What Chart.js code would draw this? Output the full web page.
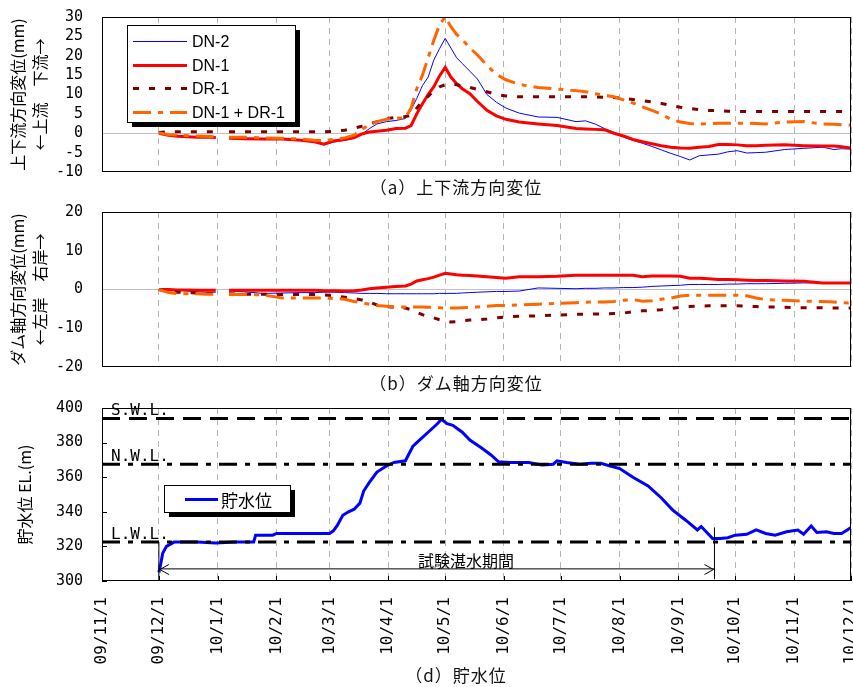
<!DOCTYPE html>
<html lang="ja">
<head>
<meta charset="utf-8">
<title>試験湛水 変位と貯水位</title>
<script src="https://cdn.jsdelivr.net/npm/chart.js@4.4.1/dist/chart.umd.min.js"></script>
<style>
  body { margin: 0; background: #fff; }
  #wrap { position: relative; width: 853px; height: 687px; overflow: hidden; }
  canvas { position: absolute; left: 0; }
  .cap { position: absolute; left: 336px; width: 240px; text-align: center; font: 17px "Noto Sans CJK JP", sans-serif; letter-spacing: 1px; line-height: 20px; color: #111; }
</style>
</head>
<body>
<div id="wrap">
  <canvas id="upDown" width="853" height="184" style="top:0"></canvas>
  <div class="cap" style="top:177px">（a）上下流方向変位</div>
  <canvas id="damAxis" width="853" height="184" style="top:195px"></canvas>
  <div class="cap" style="top:373px">（b）ダム軸方向変位</div>
  <canvas id="level" width="853" height="297" style="top:390px"></canvas>
  <div class="cap" style="top:665px">（d）貯水位</div>
</div>
<script>
// x values are days counted from 2009/11/1
const monthDays = [0, 30, 61, 92, 120, 151, 181, 212, 242, 273, 304, 334, 365, 395];
const monthLabels = ['09/11/1', '09/12/1', '10/1/1', '10/2/1', '10/3/1', '10/4/1', '10/5/1',
  '10/6/1', '10/7/1', '10/8/1', '10/9/1', '10/10/1', '10/11/1', '10/12/1'];

// common sampling days for the displacement panels (null = no data)
const days = [30, 35, 40, 45, 50, 55, 60, 63, 67, 75,
  85, 95, 105, 112, 117, 122, 128, 133, 137, 141,
  145, 150, 155, 160, 163, 166, 169, 172, 175, 178,
  181, 184, 187, 190, 194, 198, 203, 208, 213, 220,
  230, 240, 250, 255, 260, 265, 270, 275, 280, 285,
  290, 295, 300, 305, 310, 315, 320, 325, 330, 335,
  340, 345, 350, 360, 370, 380, 386, 390, 395];

// (a) upstream / downstream displacement (mm)
const dn2Up = [0, -0.3, -0.6, -0.8, -0.9, -1.0, -1.2, null, -1.2, -1.5,
  -1.5, -1.6, -1.9, -2.3, -3.0, -2.3, -1.8, -1.3, -0.3, 1.2,
  2.4, 3.0, 3.3, 3.8, 6.0, 9.0, 12.3, 14.5, 18.9, 21.8,
  24.5, 22.0, 19.5, 18.0, 16.0, 14.0, 10.0, 8.0, 6.5, 5.2,
  4.2, 4.1, 3.0, 3.2, 2.4, 1.2, 0.2, -1.0, -1.8, -2.6,
  -3.4, -4.3, -5.2, -6.0, -6.9, -5.8, -5.6, -5.4, -4.8, -4.5,
  -5.1, -5.0, -4.9, -4.2, -3.9, -3.6, -4.2, -4.0, -4.1];
const dn1Up = [0, -0.5, -0.8, -0.9, -1.0, -1.0, -1.1, null, -1.3, -1.4,
  -1.5, -1.5, -1.8, -2.2, -2.8, -2.0, -1.6, -1.1, -0.2, 0.3,
  0.5, 0.8, 1.2, 1.3, 2.0, 5.0, 7.6, 10.0, 12.0, 14.8,
  17.0, 14.5, 12.8, 11.5, 10.2, 8.2, 5.9, 4.5, 3.6, 2.9,
  2.4, 2.0, 1.2, 1.1, 1.0, 0.9, 0.0, -0.7, -1.6, -2.2,
  -2.7, -3.2, -3.6, -3.8, -3.9, -3.6, -3.4, -2.9, -2.9, -3.0,
  -3.2, -3.2, -3.1, -3.0, -3.2, -3.3, -3.3, -3.5, -3.8];
const dr1Up = [0.2, 0.4, 0.4, 0.4, 0.4, 0.4, 0.4, null, 0.4, 0.4,
  0.4, 0.4, 0.4, 0.4, 0.4, 0.5, 0.8, 1.3, 1.8, 2.4,
  3.0, 3.8, 4.1, 4.3, 4.6, 6.5, 8.3, 9.5, 11.0, 12.0,
  12.5, 12.8, 12.5, 12.2, 11.8, 11.3, 10.7, 10.0, 9.6, 9.4,
  9.4, 9.4, 9.4, 9.4, 9.4, 9.3, 9.2, 9.0, 8.7, 8.4,
  8.1, 7.7, 7.2, 6.7, 6.4, 6.1, 5.9, 5.8, 5.7, 5.6,
  5.6, 5.6, 5.6, 5.6, 5.6, 5.6, 5.6, 5.6, 5.6];
const sumUp = [0.1, -0.3, -0.5, -0.6, -0.7, -0.8, -0.9, null, -1.0, -1.0,
  -1.2, -1.3, -1.5, -1.8, -1.9, -1.6, -1.2, -0.5, 1.0, 2.2,
  3.0, 3.6, 3.9, 4.0, 6.5, 11.5, 15.0, 19.5, 24.0, 28.0,
  30.0, 27.5, 25.5, 24.2, 22.0, 20.2, 17.5, 15.2, 13.8, 12.6,
  11.8, 11.4, 11.0, 10.7, 10.2, 9.8, 9.4, 8.6, 7.8, 6.8,
  5.9, 4.9, 3.6, 2.9, 2.5, 2.4, 2.5, 2.6, 2.6, 2.6,
  2.6, 2.5, 2.4, 2.9, 3.0, 2.4, 2.3, 2.2, 2.1];

// (b) dam-axis displacement (mm)
const dn2Ax = [0, -0.1, -0.2, -0.4, -0.6, -0.7, -0.7, null, -0.4, -0.6,
  -1.0, -0.9, -0.8, -0.8, -0.7, -0.7, -0.8, -0.9, -1.0, -1.0,
  -1.0, -1.1, -1.1, -1.1, -1.1, -1.1, -1.1, -1.1, -1.1, -1.0,
  -1.0, -1.0, -1.0, -0.9, -0.8, -0.7, -0.6, -0.5, -0.5, -0.4,
  0.4, 0.3, 0.2, 0.3, 0.3, 0.4, 0.4, 0.5, 0.5, 0.6,
  0.8, 0.9, 1.0, 1.1, 1.3, 1.3, 1.3, 1.3, 1.4, 1.4,
  1.5, 1.5, 1.5, 1.6, 1.7, 1.7, 1.7, 1.7, 1.7];
const dn1Ax = [0, 0, -0.1, -0.1, -0.2, -0.2, -0.2, null, -0.2, -0.2,
  -0.2, -0.2, -0.2, -0.2, -0.3, -0.3, -0.4, -0.3, -0.1, 0.2,
  0.4, 0.6, 0.8, 0.9, 1.4, 2.2, 2.5, 2.8, 3.2, 3.7,
  4.2, 4.0, 3.8, 3.7, 3.6, 3.5, 3.3, 3.1, 2.9, 3.3,
  3.3, 3.4, 3.7, 3.7, 3.7, 3.7, 3.7, 3.7, 3.7, 3.3,
  3.5, 3.5, 3.5, 3.4, 2.9, 2.9, 2.8, 2.6, 2.6, 2.5,
  2.4, 2.3, 2.3, 2.2, 2.1, 1.7, 1.7, 1.7, 1.7];
const dr1Ax = [0, -0.5, -0.7, -0.8, -0.9, -1.0, -1.0, null, -1.1, -1.2,
  -1.2, -1.3, -1.3, -1.3, -1.4, -1.6, -2.0, -2.3, -2.7, -3.2,
  -4.0, -4.4, -4.6, -4.8, -5.2, -5.9, -6.5, -7.0, -7.3, -7.8,
  -8.1, -8.4, -8.3, -8.1, -7.9, -7.8, -7.6, -7.3, -7.1, -6.9,
  -6.8, -6.6, -6.4, -6.4, -6.3, -6.3, -6.2, -6.1, -5.7, -5.5,
  -5.4, -5.2, -4.9, -4.6, -4.4, -4.3, -4.2, -4.2, -4.2, -4.2,
  -4.3, -4.4, -4.5, -4.6, -4.7, -4.7, -4.8, -4.8, -4.8];
const sumAx = [0, -0.8, -1.1, -1.1, -1.1, -1.2, -1.2, null, -1.3, -1.3,
  -1.4, -2.2, -2.2, -2.2, -2.2, -2.3, -2.5, -3.1, -3.4, -3.8,
  -4.1, -4.3, -4.5, -4.5, -4.5, -4.5, -4.5, -4.6, -4.6, -4.7,
  -4.8, -4.8, -4.8, -4.7, -4.6, -4.5, -4.3, -4.1, -4.1, -4.0,
  -3.8, -3.6, -3.4, -3.3, -3.2, -3.2, -3.1, -2.8, -2.6, -3.0,
  -2.9, -2.5, -2.2, -1.7, -1.5, -1.5, -1.5, -1.5, -1.5, -1.5,
  -1.6, -2.2, -2.6, -2.8, -3.0, -3.1, -3.2, -3.4, -3.5];

// (d) reservoir water level EL.(m)
const levelDays = [30, 31, 32, 34, 38, 50, 60, 70, 80, 81,
  82, 90, 92, 100, 110, 120, 122, 124, 127, 130,
  133, 136, 138, 141, 145, 150, 154, 160, 164, 168,
  173, 177, 179, 182, 185, 190, 194, 200, 205, 209,
  215, 225, 232, 238, 240, 245, 252, 258, 263, 268,
  273, 280, 288, 295, 301, 308, 314, 316, 319, 322,
  326, 330, 334, 340, 345, 350, 355, 361, 367, 370,
  374, 377, 382, 386, 390, 393, 395];
const level = [305, 310, 316, 320, 322.5, 322.5, 322, 322.5, 322.5, 326.5,
  326.5, 326.5, 327.5, 327.5, 327.5, 327.5, 329, 332, 338, 340,
  341.5, 345, 352, 357, 363, 366.5, 368.5, 369.5, 378, 382,
  387, 391, 393.5, 391, 390, 386, 381.5, 377, 373, 369,
  368.5, 368.5, 367, 367.5, 369.5, 368.5, 367.5, 368, 368, 366.5,
  365, 360, 355, 348, 341, 335, 329.5, 331.5, 328, 324.5,
  324.5, 325, 326.5, 327, 329.5, 327.5, 326.5, 328.5, 329.5, 327,
  331.8, 328, 328.5, 327.5, 327.5, 329.5, 331];

const refNames = ['S.W.L.', 'N.W.L.', 'L.W.L.'];
const refLevels = [394, 367.5, 322.5];
const trialStart = 30;    // 09/12/1
const trialEnd = 323;     // end of test impounding
const arrowLevel = 307;
const trialLabel = '試験湛水期間';
const trialLabelDay = 192;

const CJK = '"Noto Sans CJK JP", sans-serif';
const MONO = '"DejaVu Sans Mono", monospace';

function xScale(showLabels) {
  return {
    type: 'linear', min: 0, max: 395,
    afterBuildTicks: s => { s.ticks = monthDays.map(v => ({ value: v })); },
    afterFit: s => { s.height = showLabels ? 106 : 0; s.paddingLeft = 0; s.paddingRight = 0; },
    grid: { color: '#b4b4b4', lineWidth: 1, drawTicks: false },
    border: { display: false, dash: [6, 5] },
    ticks: {
      display: showLabels, autoSkip: false, minRotation: 90, maxRotation: 90, padding: 16,
      color: '#000', font: { family: MONO, size: 16 },
      callback: (v, i) => monthLabels[i]
    }
  };
}

function yScale(min, max, step, title, zeroLine, titlePad) {
  return {
    min: min, max: max,
    afterFit: s => { s.width = 102; s.paddingTop = 0; s.paddingBottom = 0; },
    grid: {
      display: zeroLine, drawTicks: false, lineWidth: 1,
      color: c => (c.tick && c.tick.value === 0) ? '#c0c0c0' : 'rgba(0,0,0,0)'
    },
    border: { display: false },
    ticks: { stepSize: step, autoSkip: false, padding: 19, color: '#000', font: { family: MONO, size: 15 } },
    title: {
      display: true, text: title, color: '#000',
      font: { family: CJK, size: 16, lineHeight: 1.375 },
      padding: { top: titlePad, bottom: 0 }
    }
  };
}

function displacementSets(a, b, c, d) {
  return [
    { label: 'DN-2', values: a, borderColor: '#0000ff', borderWidth: 1, order: 3 },
    { label: 'DN-1', values: b, borderColor: '#ff0000', borderWidth: 3, order: 2 },
    { label: 'DR-1', values: c, borderColor: '#800000', borderWidth: 3, borderDash: [6, 10], order: 1 },
    { label: 'DN-1 + DR-1', values: d, borderColor: '#ff6600', borderWidth: 3, borderDash: [18, 7, 5, 7], order: 0 }
  ].map(ds => ({
    label: ds.label, borderColor: ds.borderColor, borderWidth: ds.borderWidth,
    borderDash: ds.borderDash || [], order: ds.order,
    data: days.map((x, i) => ({ x: x, y: ds.values[i] })),
    pointRadius: 0, tension: 0, spanGaps: false
  }));
}

// black frame round the plot area, optional inward ticks
const frame = {
  id: 'frame',
  afterDatasetsDraw(chart, args, opts) {
    const { ctx, chartArea: a } = chart;
    ctx.save();
    ctx.strokeStyle = '#000';
    ctx.lineWidth = 1;
    ctx.strokeRect(a.left + 0.5, a.top + 0.5, a.width - 1, a.height - 1);
    if (opts.innerTicks) {
      const { x, y } = chart.scales;
      ctx.beginPath();
      x.ticks.forEach(t => {
        const px = Math.round(x.getPixelForValue(t.value)) + 0.5;
        ctx.moveTo(px, a.bottom); ctx.lineTo(px, a.bottom - 5);
      });
      y.ticks.forEach(t => {
        const py = Math.round(y.getPixelForValue(t.value)) + 0.5;
        ctx.moveTo(a.left, py); ctx.lineTo(a.left + 5, py);
      });
      ctx.stroke();
    }
    ctx.restore();
  }
};

// boxed legend with drop shadow
const boxLegend = {
  id: 'boxLegend',
  afterDraw(chart, args, o) {
    const ctx = chart.ctx;
    ctx.save();
    ctx.fillStyle = '#000';
    ctx.fillRect(o.x + 5, o.y + 5, o.w, o.h);
    ctx.fillStyle = '#fff';
    ctx.fillRect(o.x, o.y, o.w, o.h);
    ctx.strokeStyle = '#000';
    ctx.lineWidth = 1;
    ctx.strokeRect(o.x + 0.5, o.y + 0.5, o.w, o.h);
    const items = chart.data.datasets.filter(ds => !ds.noLegend);
    items.forEach((ds, i) => {
      const cy = Math.round(o.y + o.firstRow + i * o.rowH) + 0.5;
      ctx.strokeStyle = ds.borderColor;
      ctx.lineWidth = ds.borderWidth;
      ctx.setLineDash(ds.borderDash || []);
      ctx.beginPath();
      ctx.moveTo(o.x + o.lineX, cy);
      ctx.lineTo(o.x + o.lineX + o.lineLen, cy);
      ctx.stroke();
      ctx.setLineDash([]);
      ctx.fillStyle = '#000';
      ctx.font = o.font;
      ctx.textBaseline = 'middle';
      ctx.fillText(ds.label, o.x + o.textX, cy + 1);
    });
    ctx.restore();
  }
};

// water level labels, arrow heads and period text
const levelNotes = {
  id: 'levelNotes',
  afterDatasetsDraw(chart) {
    const { ctx, scales: { x, y } } = chart;
    ctx.save();
    ctx.fillStyle = '#000';
    ctx.font = '16px ' + MONO;
    ctx.textBaseline = 'alphabetic';
    refNames.forEach((name, i) => {
      ctx.fillText(name, x.left + 9, y.getPixelForValue(refLevels[i]) - 3);
    });
    const ay = Math.round(y.getPixelForValue(arrowLevel)) + 0.5;
    const x0 = x.getPixelForValue(trialStart);
    const x1 = x.getPixelForValue(trialEnd);
    ctx.strokeStyle = '#000';
    ctx.lineWidth = 1;
    ctx.beginPath();
    ctx.moveTo(x0 + 10, ay - 5); ctx.lineTo(x0 + 1, ay); ctx.lineTo(x0 + 10, ay + 5);
    ctx.moveTo(x1 - 10, ay - 5); ctx.lineTo(x1 - 1, ay); ctx.lineTo(x1 - 10, ay + 5);
    ctx.stroke();
    ctx.font = '16px ' + CJK;
    ctx.textAlign = 'center';
    ctx.textBaseline = 'middle';
    ctx.fillText(trialLabel, x.getPixelForValue(trialLabelDay), ay - 9);
    ctx.restore();
  }
};

const baseLayout = { padding: { left: 0, right: 2, top: 17, bottom: 12 } };

new Chart(document.getElementById('upDown'), {
  type: 'line',
  data: { datasets: displacementSets(dn2Up, dn1Up, dr1Up, sumUp) },
  options: {
    responsive: false, animation: false, layout: baseLayout,
    scales: {
      x: xScale(false),
      y: yScale(-10, 30, 5, ['上下流方向変位(mm)', '←上流　下流→'], true, 7)
    },
    plugins: {
      legend: { display: false }, tooltip: { enabled: false },
      boxLegend: { x: 127, y: 25, w: 168, h: 97, firstRow: 16, rowH: 23.5, lineX: 6, lineLen: 54, textX: 65, font: '16px "Liberation Sans", Arial, sans-serif' }
    }
  },
  plugins: [frame, boxLegend]
});

new Chart(document.getElementById('damAxis'), {
  type: 'line',
  data: { datasets: displacementSets(dn2Ax, dn1Ax, dr1Ax, sumAx) },
  options: {
    responsive: false, animation: false, layout: baseLayout,
    scales: {
      x: xScale(false),
      y: yScale(-20, 20, 10, ['ダム軸方向変位(mm)', '←左岸　右岸→'], true, 7)
    },
    plugins: { legend: { display: false }, tooltip: { enabled: false } }
  },
  plugins: [frame]
});

const refDash = [[18, 9], [18, 8, 5, 8], [18, 8, 5, 8]];
const levelSets = refLevels.map((v, i) => ({
  label: refNames[i], noLegend: true,
  data: [{ x: 0, y: v }, { x: 395, y: v }],
  borderColor: '#000', borderWidth: 3, borderDash: refDash[i]
}));
levelSets.push(
  { label: 'start', noLegend: true, data: [{ x: trialStart, y: 300 }, { x: trialStart, y: refLevels[2] }], borderColor: '#000', borderWidth: 1 },
  { label: 'end', noLegend: true, data: [{ x: trialEnd, y: 301 }, { x: trialEnd, y: 331 }], borderColor: '#000', borderWidth: 1 },
  { label: 'period', noLegend: true, data: [{ x: trialStart, y: arrowLevel }, { x: trialEnd, y: arrowLevel }], borderColor: '#000', borderWidth: 1 },
  { label: '貯水位', data: levelDays.map((d, i) => ({ x: d, y: level[i] })), borderColor: '#0000ff', borderWidth: 3 }
);
levelSets.forEach(ds => { ds.pointRadius = 0; ds.tension = 0; });

new Chart(document.getElementById('level'), {
  type: 'line',
  data: { datasets: levelSets },
  options: {
    responsive: false, animation: false,
    layout: { padding: { left: 0, right: 2, top: 18, bottom: 0 } },
    scales: {
      x: xScale(true),
      y: yScale(300, 400, 20, '貯水位 EL.(m)', false, 14)
    },
    plugins: {
      legend: { display: false }, tooltip: { enabled: false },
      frame: { innerTicks: true },
      boxLegend: { x: 164, y: 95, w: 126, h: 27, firstRow: 14, rowH: 0, lineX: 21, lineLen: 33, textX: 57, font: '17px "Noto Sans CJK JP", sans-serif' }
    }
  },
  plugins: [frame, levelNotes, boxLegend]
});
</script>
</body>
</html>
